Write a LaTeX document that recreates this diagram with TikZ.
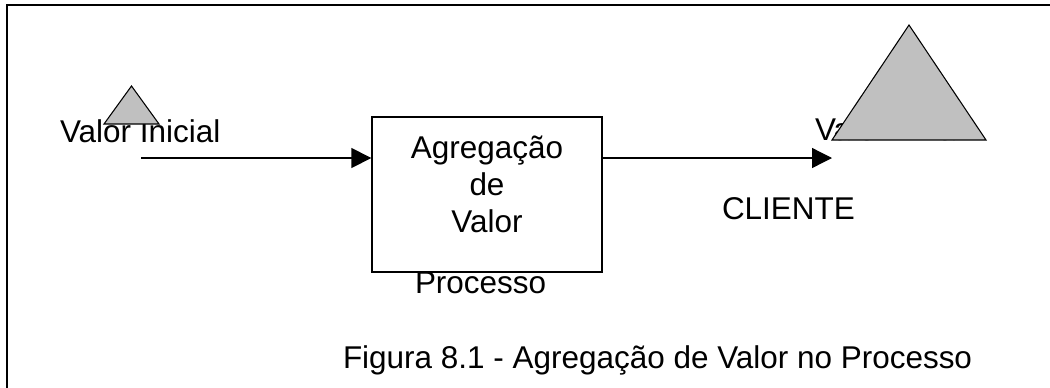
\documentclass[tikz,border=0pt]{standalone}
\usepackage{fontspec}
\setmainfont{Liberation Sans}
\usetikzlibrary{arrows.meta,calc}
\definecolor{trigray}{HTML}{C0C0C0}
\tikzset{
  lbl/.style={inner sep=0pt, outer sep=0pt, font=\fontsize{23.6}{27.75}\selectfont},
  procbox/.style={draw, line width=1pt, minimum width=172.5pt, minimum height=116.25pt, inner sep=0pt},
  valtri/.style={draw, line width=0.8pt, fill=trigray, line join=miter},
  flow/.style={line width=1pt, -{Triangle[length=15pt, width=15pt]}},
  frame/.style={line width=1.5pt}
}
\begin{document}
\begin{tikzpicture}[x=0.75pt, y=-0.75pt]
\useasboundingbox (0,0) rectangle (1050,387);
% frame
\draw[frame] (7,390) -- (7,5) -- (1055,5);
% left: initial value
\node[lbl, anchor=base west] (vini) at (60,142) {Valor Inicial};
\draw[valtri] (104,124) -- (131.5,86) -- (159,124) -- cycle;
% process box
\node[procbox] (proc) at (487,194.5) {};
\node[lbl, align=center, anchor=base] (proctext) at (487,232) {Agregação\\de\\Valor};
\node[lbl, anchor=base west] (processo) at (415,293) {Processo};
% arrows
\coordinate (a1) at (141,158);
\coordinate (a2) at (832,158);
\draw[flow] (a1) -- (a1 -| proc.west);
\draw[flow] (a2 -| proc.east) -- (a2);
% right: final value
\node[lbl, anchor=base west] (vfin) at (815,140) {Valor Final};
\draw[valtri] (832,140) -- (909,25) -- (986,140) -- cycle;
\node[lbl, anchor=base west] (cliente) at (722,219) {CLIENTE};
% caption
\node[lbl, anchor=base west] (caption) at (343,368) {Figura 8.1 - Agregação de Valor no Processo};
\end{tikzpicture}
\end{document}
